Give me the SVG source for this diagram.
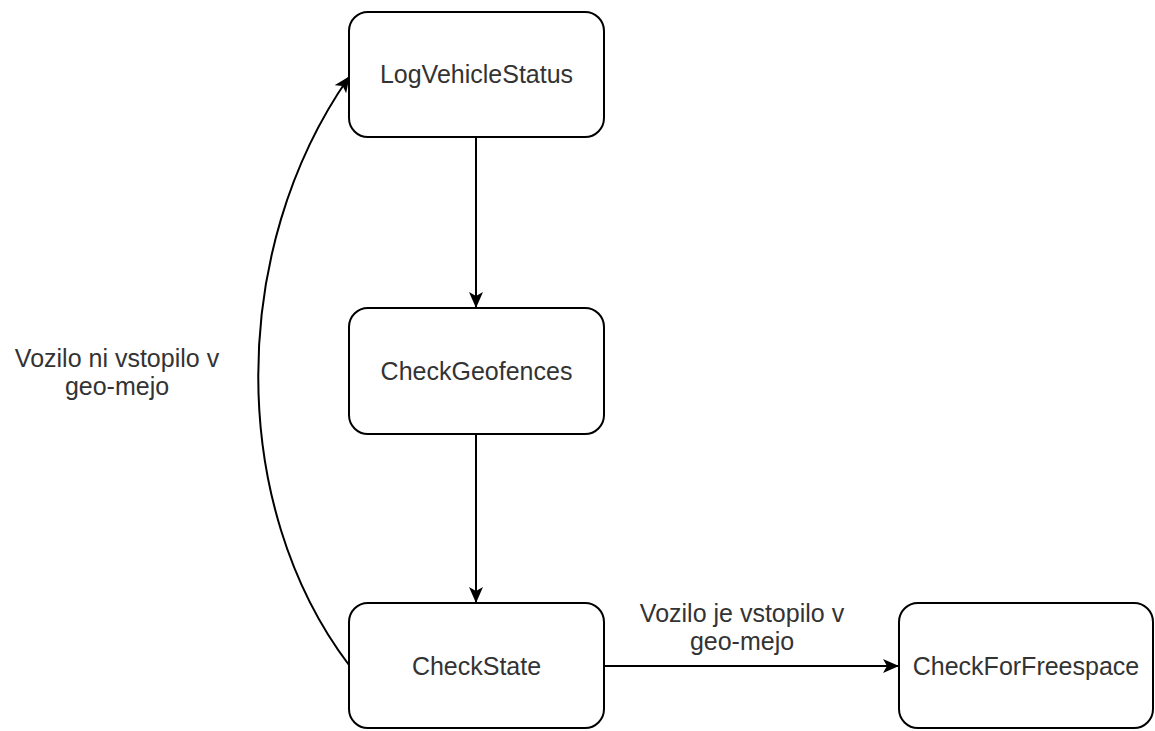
<svg xmlns="http://www.w3.org/2000/svg" width="1155" height="731" viewBox="0 0 1155 731">
  <style>
    .box { fill: #ffffff; stroke: #000000; stroke-width: 2; }
    .lbl { font-family: "Liberation Sans", Arial, sans-serif; font-size: 25px; fill: #333333; text-anchor: middle; }
    .edge { fill: none; stroke: #000000; stroke-width: 2; }
  </style>
  <defs>
    <marker id="arrow" viewBox="0 0 16 14" refX="15" refY="7" markerWidth="16" markerHeight="14" markerUnits="userSpaceOnUse" orient="auto">
      <path d="M0,0 L16,7 L0,14 L4,7 Z" fill="#000000"/>
    </marker>
  </defs>
  <rect width="1155" height="731" fill="#ffffff"/>

  <g id="connectors">
    <path class="edge" d="M476,137 L476,307" marker-end="url(#arrow)"/>
    <path class="edge" d="M476,434 L476,602" marker-end="url(#arrow)"/>
    <path class="edge" d="M604,666 L898,666" marker-end="url(#arrow)"/>
    <path class="edge" d="M349,665 C228,505 228,250 349,77" marker-end="url(#arrow)"/>
    <text class="lbl" x="742" y="622">Vozilo je vstopilo v</text>
    <text class="lbl" x="742" y="650">geo-mejo</text>
    <text class="lbl" x="117" y="367">Vozilo ni vstopilo v</text>
    <text class="lbl" x="117" y="395">geo-mejo</text>
  </g>

  <g id="logVehicleStatus">
    <rect class="box" x="349" y="12" width="255" height="125" rx="19" ry="19"/>
    <text class="lbl" x="476.5" y="83">LogVehicleStatus</text>
  </g>
  <g id="checkGeofences">
    <rect class="box" x="349" y="308" width="255" height="126" rx="19" ry="19"/>
    <text class="lbl" x="476.5" y="380">CheckGeofences</text>
  </g>
  <g id="checkState">
    <rect class="box" x="349" y="603" width="255" height="125" rx="19" ry="19"/>
    <text class="lbl" x="476.5" y="675">CheckState</text>
  </g>
  <g id="checkForFreespace">
    <rect class="box" x="899" y="603" width="254" height="125" rx="19" ry="19"/>
    <text class="lbl" x="1026" y="675">CheckForFreespace</text>
  </g>
</svg>
